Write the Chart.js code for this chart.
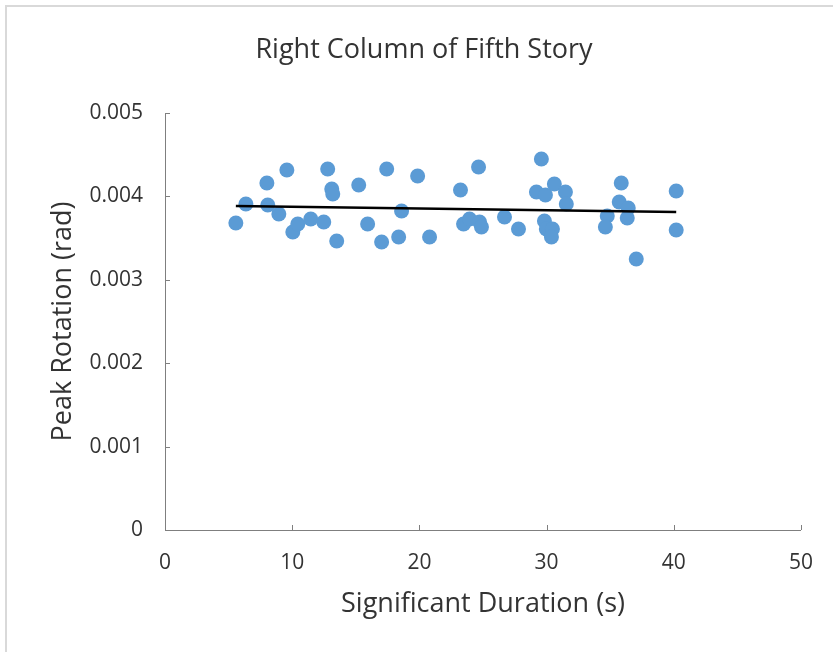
<!DOCTYPE html>
<html>
<head>
<meta charset="utf-8">
<script src="https://cdn.jsdelivr.net/npm/chart.js@4"></script>
<style>
  body { margin: 0; background: #fff; }
  #frame { position: absolute; left: 5px; top: 5px; width: 840px; height: 660px;
           border-top: 2px solid #d9d9d9; border-left: 2px solid #d9d9d9; }
  #myChart { position: absolute; left: 0; top: 0; }
</style>
</head>
<body>
<div id="frame"></div>
<canvas id="myChart" width="833" height="652"></canvas>
<script>
// significant duration (s)
const duration = [5.57, 6.36, 8.01, 8.08, 8.95, 9.58, 10.05, 10.44, 11.46, 12.48,
  12.79, 13.11, 13.19, 13.50, 15.23, 15.93, 17.03, 17.43, 18.37, 18.60,
  19.86, 20.80, 23.23, 23.47, 23.94, 24.65, 24.73, 24.88, 26.69, 27.79,
  29.20, 29.59, 29.91, 30.61, 31.48, 31.55, 29.83, 29.98, 30.46, 30.38,
  35.87, 35.71, 36.42, 36.34, 34.77, 34.62, 37.05, 40.19, 40.19]
// peak rotation (rad)
const rotation = [0.003681, 0.003909, 0.004161, 0.003897, 0.003789, 0.004317, 0.003573, 0.003669, 0.003729, 0.003693,
  0.004329, 0.004089, 0.004029, 0.003465, 0.004137, 0.003669, 0.003453, 0.004329, 0.003513, 0.003825,
  0.004245, 0.003513, 0.004077, 0.003669, 0.003729, 0.004353, 0.003693, 0.003633, 0.003753, 0.003609,
  0.004053, 0.004448, 0.004017, 0.004149, 0.004053, 0.003909, 0.003705, 0.003609, 0.003609, 0.003513,
  0.004161, 0.003933, 0.003861, 0.003741, 0.003765, 0.003633, 0.003249, 0.004065, 0.003597]
// linear trendline end points
const trendX = [5.57, 40.19]
const trendY = [0.003885, 0.003813]

const xTickLabels = ['0', '10', '20', '30', '40', '50']
const yTickLabels = ['0', '0.001', '0.002', '0.003', '0.004', '0.005']
const chartTitle = 'Right Column of Fifth Story'

const axisColor = '#7f7f7f'
const textColor = '#333333'
const fontFamily = "'Open Sans', sans-serif"

// short tick marks drawn inside the plot, like the original
const innerTicks = {
  id: 'innerTicks',
  afterDatasetsDraw(chart) {
    const ctx = chart.ctx
    const xs = chart.scales.x
    const ys = chart.scales.y
    const area = chart.chartArea
    ctx.save()
    ctx.strokeStyle = axisColor
    ctx.lineWidth = 1
    ctx.beginPath()
    xs.ticks.forEach(t => {
      const px = Math.round(xs.getPixelForValue(t.value)) + 0.5
      ctx.moveTo(px, area.bottom)
      ctx.lineTo(px, area.bottom - 5)
    })
    ys.ticks.forEach(t => {
      const py = Math.round(ys.getPixelForValue(t.value)) + 0.5
      ctx.moveTo(area.left, py)
      ctx.lineTo(area.left + 5, py)
    })
    ctx.stroke()
    ctx.restore()
  }
}

// title sits a bit right of the plot centre in the original
const topTitle = {
  id: 'topTitle',
  afterDraw(chart) {
    const ctx = chart.ctx
    ctx.save()
    ctx.fillStyle = textColor
    ctx.font = "27px 'Open Sans', sans-serif"
    ctx.textAlign = 'center'
    ctx.textBaseline = 'middle'
    ctx.fillText(chartTitle, 424, 50)
    ctx.restore()
  }
}

const points = duration.map((d, i) => ({ x: d, y: rotation[i] }))
const trend = trendX.map((d, i) => ({ x: d, y: trendY[i] }))

const ctx = document.getElementById('myChart').getContext('2d')
const myChart = new Chart(ctx, {
  type: 'scatter',
  data: {
    datasets: [{
      type: 'line',
      data: trend,
      borderColor: '#000',
      borderWidth: 2.5,
      pointRadius: 0,
      fill: false,
      order: 0
    }, {
      data: points,
      backgroundColor: '#5b9bd5',
      borderWidth: 0,
      pointRadius: 7.5,
      order: 1
    }]
  },
  options: {
    responsive: false,
    animation: false,
    devicePixelRatio: 1,
    layout: { padding: { left: 0, right: 31, top: 113, bottom: 0 } },
    plugins: {
      legend: { display: false },
      tooltip: { enabled: false },
      title: { display: false }
    },
    scales: {
      x: {
        type: 'linear',
        min: 0, max: 50,
        afterFit(scale) { scale.height = 122 },
        grid: { display: true, drawOnChartArea: false, drawTicks: false },
        border: { display: true, color: axisColor, width: 1 },
        ticks: {
          stepSize: 10,
          padding: 20,
          color: textColor,
          font: { family: fontFamily, size: 21 },
          callback: (v, i) => xTickLabels[i]
        },
        title: {
          display: true,
          text: 'Significant Duration (s)',
          color: textColor,
          font: { family: fontFamily, size: 27 },
          padding: { top: 0, bottom: 31 }
        }
      },
      y: {
        type: 'linear',
        min: 0, max: 0.005,
        afterFit(scale) { scale.width = 165 },
        grid: { display: true, drawOnChartArea: false, drawTicks: false },
        border: { display: true, color: axisColor, width: 1 },
        ticks: {
          stepSize: 0.001,
          padding: 22,
          color: textColor,
          font: { family: fontFamily, size: 21 },
          callback: (v, i) => yTickLabels[i]
        },
        title: {
          display: true,
          text: 'Peak Rotation (rad)',
          color: textColor,
          font: { family: fontFamily, size: 27 },
          padding: { top: 47, bottom: 0 }
        }
      }
    }
  },
  plugins: [innerTicks, topTitle]
})
</script>
</body>
</html>
